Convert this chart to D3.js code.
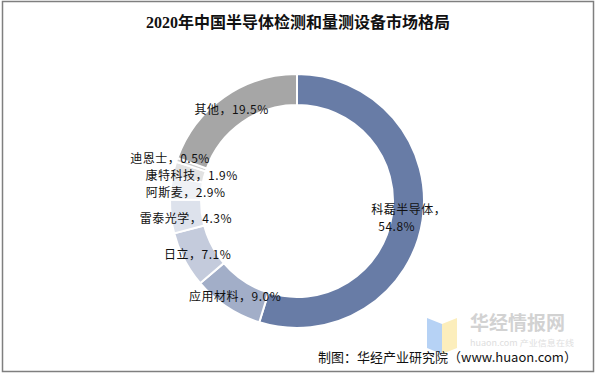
<!DOCTYPE html>
<html>
<head>
<meta charset="utf-8">
<script src="https://cdn.jsdelivr.net/npm/d3@7/dist/d3.min.js"></script>
<style>
  html, body { margin: 0; padding: 0; background: #fff; }
  svg { display: block; }
</style>
</head>
<body>
<svg id="chart" width="596" height="375"></svg>
<script>
// Market share of inspection & metrology equipment vendors, China 2020
const companies = ['科磊半导体', '应用材料', '日立', '雷泰光学', '阿斯麦', '康特科技', '迪恩士', '其他'];
const shares = [54.8, 9.0, 7.1, 4.3, 2.9, 1.9, 0.5, 19.5];
const sliceColors = ['#687ca6', '#a2aec8', '#c4cbdc', '#dde2ec', '#eff1f5', '#e2e2e2', '#d0d0d0', '#a6a6a6'];

const width = 596, height = 375;
const cx = 297, cy = 201;
const outerR = 127, innerR = 96;

const svg = d3.select('#chart');

// outer frame
svg.append('rect')
  .attr('x', 2.5).attr('y', 1.5)
  .attr('width', 591).attr('height', 370)
  .attr('fill', '#fff')
  .attr('stroke', '#7f7f7f')
  .attr('stroke-width', 1.5);

// title
svg.append('text')
  .attr('x', width / 2).attr('y', 28)
  .attr('text-anchor', 'middle')
  .attr('font-family', '"Liberation Serif", "Noto Sans CJK SC", serif')
  .attr('font-weight', 'bold')
  .attr('font-size', '16px')
  .attr('fill', '#111')
  .text('2020年中国半导体检测和量测设备市场格局');

const data = companies.map((name, i) => ({ name, value: shares[i], color: sliceColors[i] }));

const pie = d3.pie()
  .value(d => d.value)
  .sort(null)
  .startAngle(0)
  .endAngle(2 * Math.PI);

const arc = d3.arc().innerRadius(innerR).outerRadius(outerR);
const labelArc = d3.arc().innerRadius(112).outerRadius(112);

const g = svg.append('g').attr('transform', `translate(${cx},${cy})`);
const arcs = pie(data);

g.selectAll('path')
  .data(arcs)
  .enter().append('path')
  .attr('d', arc)
  .attr('fill', d => d.data.color)
  .attr('stroke', '#fff')
  .attr('stroke-width', 2);

// small label nudges so they sit like the original
const nudge = { '迪恩士': [-21, -6], '康特科技': [3, 3], '阿斯麦': [0, 4], '雷泰光学': [0, 4], '日立': [0, 2], '应用材料': [0, 3], '其他': [-1, 1] };

arcs.forEach(d => {
  const [x, y] = labelArc.centroid(d);
  const [dx, dy] = nudge[d.data.name] || [0, 0];
  const t = g.append('text')
    .attr('text-anchor', 'middle')
    .attr('font-family', '"Noto Sans CJK SC", sans-serif')
    .attr('font-size', '12px')
    .attr('letter-spacing', '0.5px')
    .attr('fill', '#111');
  if (d.data.name === '科磊半导体') {
    t.append('tspan').attr('x', x + 1).attr('y', y - 4).text(d.data.name + '，');
    t.append('tspan').attr('x', x - 11).attr('y', y + 13).text(d.data.value.toFixed(1) + '%');
  } else {
    t.attr('x', x + dx).attr('y', y + dy + 4)
      .text(d.data.name + '，' + d.data.value.toFixed(1) + '%');
  }
});

// watermark
const wm = svg.append('g').attr('opacity', 0.75);
wm.append('path').attr('d', 'M427,318 L442,324 L442,354 L427,348 Z').attr('fill', '#9ec3f2');
wm.append('path').attr('d', 'M442,324 L457,318 L457,348 L442,354 Z').attr('fill', '#fbe9a6');
wm.append('text')
  .attr('x', 470).attr('y', 330)
  .attr('font-family', '"Noto Sans CJK SC", sans-serif')
  .attr('font-weight', 'bold')
  .attr('font-size', '19px')
  .attr('fill', '#c4c4c4')
  .text('华经情报网');
wm.append('text')
  .attr('x', 470).attr('y', 346)
  .attr('font-family', '"Noto Sans CJK SC", sans-serif')
  .attr('font-size', '8px')
  .attr('fill', '#d4d4d4')
  .attr('textLength', 104)
  .attr('lengthAdjust', 'spacingAndGlyphs')
  .text('huaon.com 产业信息在线');

// source
svg.append('text')
  .attr('x', 318).attr('y', 362)
  .attr('font-family', '"Noto Sans CJK SC", sans-serif')
  .attr('font-size', '13px')
  .attr('fill', '#111')
  .text('制图：华经产业研究院（www.huaon.com）');
</script>
</body>
</html>
